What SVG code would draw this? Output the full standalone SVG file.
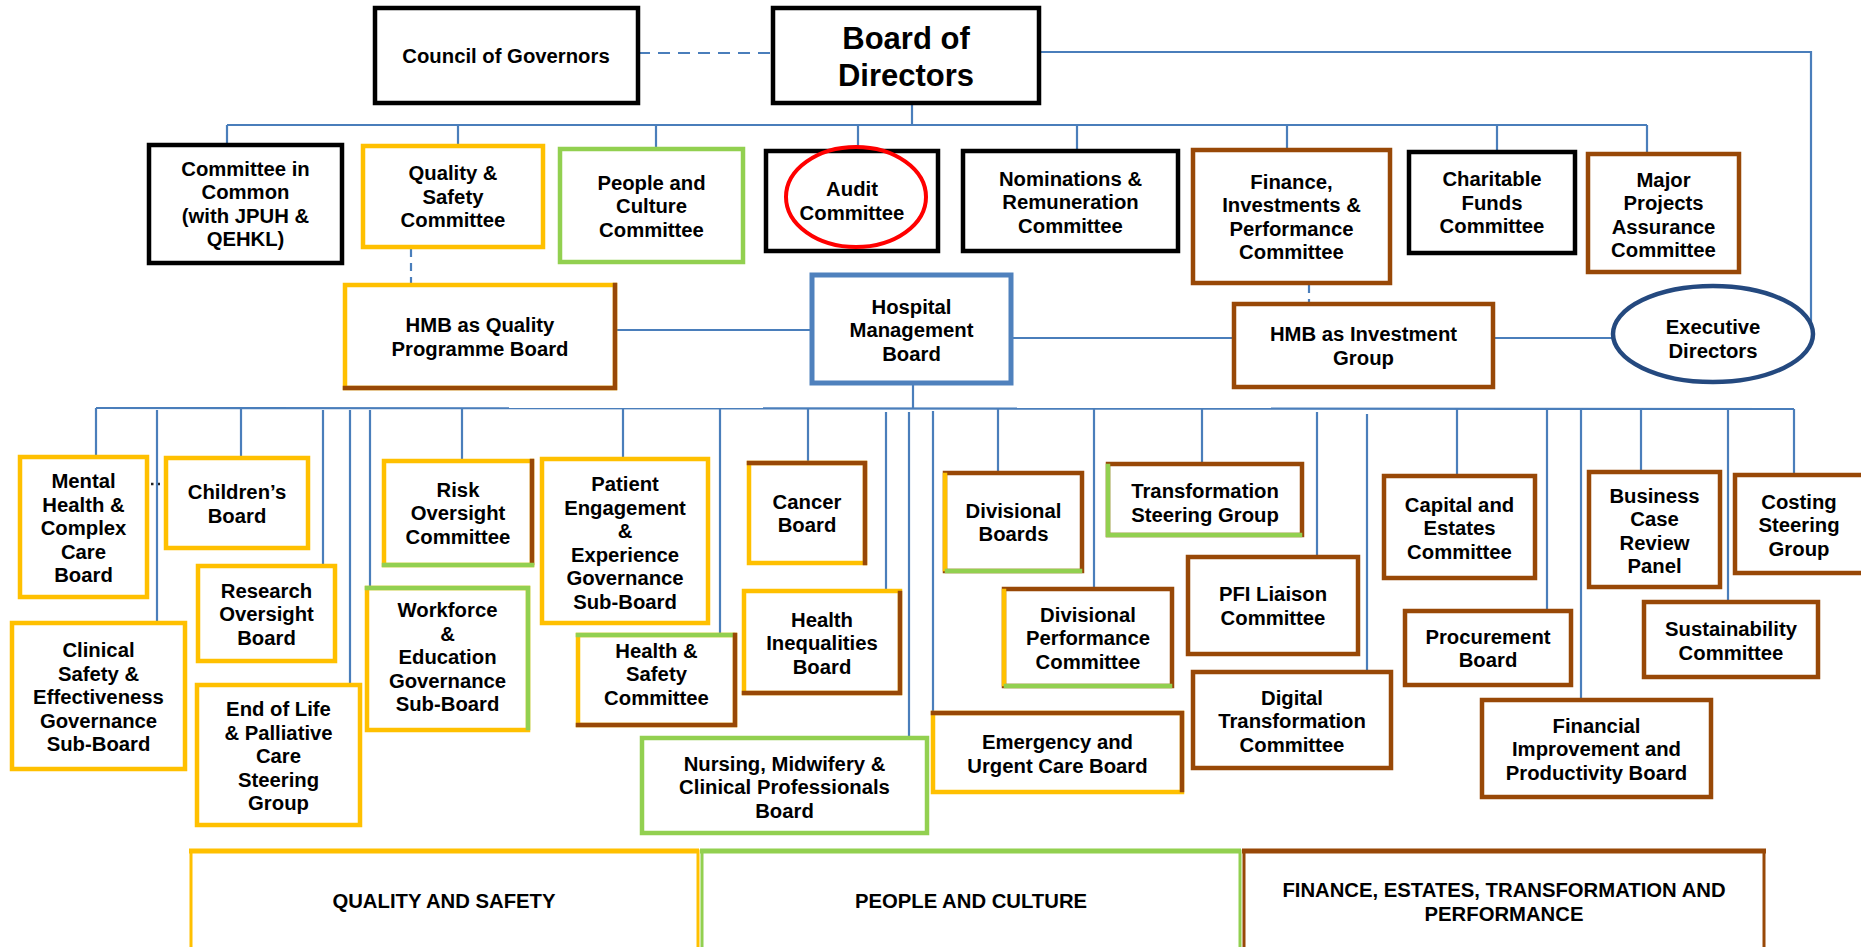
<svg xmlns="http://www.w3.org/2000/svg" width="1861" height="947" viewBox="0 0 1861 947">
  <style>
    .t { font-family: "Liberation Sans", Arial, sans-serif; font-weight: bold; font-size: 20.3px; text-anchor: middle; fill: #000; }
    .big { font-size: 31px; }
    .box { fill: #fff; stroke-width: 4.5; }
    .side { fill: none; stroke-width: 4.5; stroke-linecap: square; }
    .k { stroke: #000; }
    .y { stroke: #ffc000; }
    .g { stroke: #92d050; }
    .b { stroke: #984807; }
    .hb { stroke: #4f81bd; stroke-width: 5; }
    .conn line, .conn path { stroke: #4a7ebb; stroke-width: 2.2; fill: none; }
    .conn .dash { stroke-dasharray: 12 8; }
    .conn .dash2 { stroke-dasharray: 8 6; }
    .conn .dot { stroke: #222; stroke-width: 2.5; stroke-dasharray: 2.5 4.5; }
    .cat { fill: #fff; stroke-width: 3; }
  </style>

  <!-- connectors -->
  <g id="connectors" class="conn">
    <line class="dash" x1="638" y1="53" x2="773" y2="53"/>
    <path d="M1039 52 H1811 V324"/>
    <line x1="912" y1="103" x2="912" y2="125"/>
    <line x1="227" y1="125" x2="1647" y2="125"/>
    <line x1="227" y1="125" x2="227" y2="145"/>
    <line x1="458" y1="125" x2="458" y2="146"/>
    <line x1="656" y1="125" x2="656" y2="149"/>
    <line x1="858" y1="125" x2="858" y2="151"/>
    <line x1="1077" y1="125" x2="1077" y2="151"/>
    <line x1="1287" y1="125" x2="1287" y2="150"/>
    <line x1="1497" y1="125" x2="1497" y2="152"/>
    <line x1="1647" y1="125" x2="1647" y2="154"/>
    <line class="dash2" x1="411" y1="249" x2="411" y2="285"/>
    <line class="dash2" x1="1309" y1="285" x2="1309" y2="304"/>
    <line x1="615" y1="330" x2="812" y2="330"/>
    <line x1="1011" y1="338" x2="1234" y2="338"/>
    <line x1="1493" y1="338" x2="1613" y2="338"/>
    <line x1="913" y1="383" x2="913" y2="409"/>
    <line x1="96" y1="408" x2="1794" y2="409"/>
    <line x1="96" y1="408" x2="96" y2="457"/>
    <line x1="157" y1="410" x2="157" y2="623"/>
    <line x1="241" y1="408" x2="241" y2="458"/>
    <line x1="323" y1="410" x2="323" y2="566"/>
    <line x1="350" y1="410" x2="350" y2="685"/>
    <line x1="370" y1="410" x2="370" y2="588"/>
    <line x1="462" y1="408" x2="462" y2="461"/>
    <line x1="623" y1="408" x2="623" y2="459"/>
    <line x1="720" y1="408" x2="720" y2="635"/>
    <line x1="808" y1="408" x2="808" y2="463"/>
    <line x1="886" y1="412" x2="886" y2="591"/>
    <line x1="909" y1="412" x2="909" y2="738"/>
    <line x1="933" y1="411" x2="933" y2="713"/>
    <line x1="998" y1="408" x2="998" y2="473"/>
    <line x1="1094" y1="408" x2="1094" y2="589"/>
    <line x1="1202" y1="408" x2="1202" y2="464"/>
    <line x1="1317" y1="412" x2="1317" y2="557"/>
    <line x1="1367" y1="414" x2="1367" y2="672"/>
    <line x1="1457" y1="408" x2="1457" y2="476"/>
    <line x1="1547" y1="408" x2="1547" y2="611"/>
    <line x1="1581" y1="408" x2="1581" y2="700"/>
    <line x1="1641" y1="408" x2="1641" y2="472"/>
    <line x1="1728" y1="408" x2="1728" y2="602"/>
    <line x1="1794" y1="409" x2="1794" y2="476"/>
    <line class="dot" x1="151" y1="484" x2="160" y2="484"/>
  </g>

  <!-- top level -->
  <g id="council">
    <rect class="box k" x="375" y="8" width="263" height="95"/>
    <text class="t" x="506" y="63">Council of Governors</text>
  </g>
  <g id="board">
    <rect class="box k" x="773" y="8" width="266" height="95"/>
    <text class="t big"><tspan x="906" y="49">Board of</tspan><tspan x="906" y="86">Directors</tspan></text>
  </g>

  <!-- board committees -->
  <g id="committee-in-common">
    <rect class="box k" x="149" y="145" width="193" height="118"/>
    <text class="t"><tspan x="245.5" y="175.75">Committee in</tspan><tspan x="245.5" y="199.25">Common</tspan><tspan x="245.5" y="222.75">(with JPUH &amp;</tspan><tspan x="245.5" y="246.25">QEHKL)</tspan></text>
  </g>
  <g id="quality-safety-committee">
    <rect class="box y" x="363" y="146" width="180" height="101"/>
    <text class="t"><tspan x="453" y="180">Quality &amp;</tspan><tspan x="453" y="203.5">Safety</tspan><tspan x="453" y="227">Committee</tspan></text>
  </g>
  <g id="people-culture-committee">
    <rect class="box g" x="560" y="149" width="183" height="113"/>
    <text class="t"><tspan x="651.5" y="189.5">People and</tspan><tspan x="651.5" y="213">Culture</tspan><tspan x="651.5" y="236.5">Committee</tspan></text>
  </g>
  <g id="audit-committee">
    <rect class="box k" x="766" y="151" width="172" height="100"/>
    <ellipse cx="856" cy="197" rx="70" ry="50" fill="none" stroke="#ff0000" stroke-width="4"/>
    <text class="t"><tspan x="852" y="196.25">Audit</tspan><tspan x="852" y="219.75">Committee</tspan></text>
  </g>
  <g id="nominations-remuneration">
    <rect class="box k" x="963" y="151" width="215" height="100"/>
    <text class="t"><tspan x="1070.5" y="185.5">Nominations &amp;</tspan><tspan x="1070.5" y="209">Remuneration</tspan><tspan x="1070.5" y="232.5">Committee</tspan></text>
  </g>
  <g id="finance-investments-performance">
    <rect class="box b" x="1193" y="150" width="197" height="133"/>
    <text class="t"><tspan x="1291.5" y="188.75">Finance,</tspan><tspan x="1291.5" y="212.25">Investments &amp;</tspan><tspan x="1291.5" y="235.75">Performance</tspan><tspan x="1291.5" y="259.25">Committee</tspan></text>
  </g>
  <g id="charitable-funds">
    <rect class="box k" x="1409" y="152" width="166" height="101"/>
    <text class="t"><tspan x="1492" y="186">Charitable</tspan><tspan x="1492" y="209.5">Funds</tspan><tspan x="1492" y="233">Committee</tspan></text>
  </g>
  <g id="major-projects-assurance">
    <rect class="box b" x="1588" y="154" width="151" height="118"/>
    <text class="t"><tspan x="1663.5" y="186.75">Major</tspan><tspan x="1663.5" y="210.25">Projects</tspan><tspan x="1663.5" y="233.75">Assurance</tspan><tspan x="1663.5" y="257.25">Committee</tspan></text>
  </g>

  <!-- management level -->
  <g id="hmb-quality-programme">
    <rect class="box y" x="345" y="285" width="270" height="103"/>
    <path class="side b" d="M615 285 V388 H345"/>
    <text class="t"><tspan x="480" y="332.25">HMB as Quality</tspan><tspan x="480" y="355.75">Programme Board</tspan></text>
  </g>
  <g id="hospital-management-board">
    <rect class="box hb" x="812" y="275" width="199" height="108"/>
    <text class="t"><tspan x="911.5" y="313.5">Hospital</tspan><tspan x="911.5" y="337">Management</tspan><tspan x="911.5" y="360.5">Board</tspan></text>
  </g>
  <g id="hmb-investment-group">
    <rect class="box b" x="1234" y="304" width="259" height="83"/>
    <text class="t"><tspan x="1363.5" y="341.25">HMB as Investment</tspan><tspan x="1363.5" y="364.75">Group</tspan></text>
  </g>
  <g id="executive-directors">
    <ellipse cx="1713" cy="334" rx="100" ry="48" fill="#fff" stroke="#24497f" stroke-width="4.5"/>
    <text class="t"><tspan x="1713" y="334.25">Executive</tspan><tspan x="1713" y="357.75">Directors</tspan></text>
  </g>

  <!-- sub-boards and groups -->
  <g id="mental-health">
    <rect class="box y" x="20" y="457" width="127" height="140"/>
    <text class="t"><tspan x="83.5" y="488">Mental</tspan><tspan x="83.5" y="511.5">Health &amp;</tspan><tspan x="83.5" y="535">Complex</tspan><tspan x="83.5" y="558.5">Care</tspan><tspan x="83.5" y="582">Board</tspan></text>
  </g>
  <g id="clinical-safety">
    <rect class="box y" x="12" y="623" width="173" height="146"/>
    <text class="t"><tspan x="98.5" y="657">Clinical</tspan><tspan x="98.5" y="680.5">Safety &amp;</tspan><tspan x="98.5" y="704">Effectiveness</tspan><tspan x="98.5" y="727.5">Governance</tspan><tspan x="98.5" y="751">Sub-Board</tspan></text>
  </g>
  <g id="childrens-board">
    <rect class="box y" x="166" y="458" width="142" height="90"/>
    <text class="t"><tspan x="237" y="499.25">Children’s</tspan><tspan x="237" y="522.75">Board</tspan></text>
  </g>
  <g id="research-oversight">
    <rect class="box y" x="198" y="566" width="137" height="95"/>
    <text class="t"><tspan x="266.5" y="597.5">Research</tspan><tspan x="266.5" y="621">Oversight</tspan><tspan x="266.5" y="644.5">Board</tspan></text>
  </g>
  <g id="end-of-life">
    <rect class="box y" x="197" y="685" width="163" height="140"/>
    <text class="t"><tspan x="278.5" y="716">End of Life</tspan><tspan x="278.5" y="739.5">&amp; Palliative</tspan><tspan x="278.5" y="763">Care</tspan><tspan x="278.5" y="786.5">Steering</tspan><tspan x="278.5" y="810">Group</tspan></text>
  </g>
  <g id="risk-oversight">
    <rect class="box y" x="384" y="461" width="148" height="104"/>
    <line class="side b" x1="532" y1="461" x2="532" y2="563"/>
    <line class="side g" x1="384" y1="565" x2="532" y2="565"/>
    <text class="t"><tspan x="458" y="496.5">Risk</tspan><tspan x="458" y="520">Oversight</tspan><tspan x="458" y="543.5">Committee</tspan></text>
  </g>
  <g id="workforce-education">
    <rect class="box y" x="367" y="588" width="161" height="142"/>
    <path class="side g" d="M367 588 H528 V728"/>
    <text class="t"><tspan x="447.5" y="617">Workforce</tspan><tspan x="447.5" y="640.5">&amp;</tspan><tspan x="447.5" y="664">Education</tspan><tspan x="447.5" y="687.5">Governance</tspan><tspan x="447.5" y="711">Sub-Board</tspan></text>
  </g>
  <g id="patient-engagement">
    <rect class="box y" x="542" y="459" width="166" height="164"/>
    <text class="t"><tspan x="625" y="491.25">Patient</tspan><tspan x="625" y="514.75">Engagement</tspan><tspan x="625" y="538.25">&amp;</tspan><tspan x="625" y="561.75">Experience</tspan><tspan x="625" y="585.25">Governance</tspan><tspan x="625" y="608.75">Sub-Board</tspan></text>
  </g>
  <g id="health-safety">
    <rect class="box y" x="578" y="635" width="157" height="90"/>
    <line class="side g" x1="578" y1="635" x2="733" y2="635"/>
    <path class="side b" d="M735 635 V725 H578"/>
    <text class="t"><tspan x="656.5" y="657.5">Health &amp;</tspan><tspan x="656.5" y="681">Safety</tspan><tspan x="656.5" y="704.5">Committee</tspan></text>
  </g>
  <g id="cancer-board">
    <rect class="box y" x="749" y="463" width="116" height="100"/>
    <path class="side b" d="M749 463 H865 V563"/>
    <text class="t"><tspan x="807" y="508.75">Cancer</tspan><tspan x="807" y="532.25">Board</tspan></text>
  </g>
  <g id="health-inequalities">
    <rect class="box y" x="744" y="591" width="156" height="102"/>
    <path class="side b" d="M900 593 V693 H744"/>
    <text class="t"><tspan x="822" y="626.5">Health</tspan><tspan x="822" y="650">Inequalities</tspan><tspan x="822" y="673.5">Board</tspan></text>
  </g>
  <g id="nursing-midwifery">
    <rect class="box g" x="642" y="738" width="285" height="95"/>
    <text class="t"><tspan x="784.5" y="770.5">Nursing, Midwifery &amp;</tspan><tspan x="784.5" y="794">Clinical Professionals</tspan><tspan x="784.5" y="817.5">Board</tspan></text>
  </g>
  <g id="emergency-urgent-care">
    <rect class="box y" x="933" y="713" width="249" height="79"/>
    <path class="side b" d="M933 713 H1182 V790"/>
    <text class="t"><tspan x="1057.5" y="749.25">Emergency and</tspan><tspan x="1057.5" y="772.75">Urgent Care Board</tspan></text>
  </g>
  <g id="divisional-boards">
    <rect class="box b" x="945" y="473" width="137" height="98"/>
    <line class="side y" x1="945" y1="475" x2="945" y2="569"/>
    <line class="side g" x1="947" y1="571" x2="1080" y2="571"/>
    <text class="t"><tspan x="1013.5" y="517.75">Divisional</tspan><tspan x="1013.5" y="541.25">Boards</tspan></text>
  </g>
  <g id="divisional-performance">
    <rect class="box b" x="1004" y="589" width="168" height="97"/>
    <line class="side y" x1="1004" y1="591" x2="1004" y2="684"/>
    <line class="side g" x1="1006" y1="686" x2="1170" y2="686"/>
    <text class="t"><tspan x="1088" y="621.5">Divisional</tspan><tspan x="1088" y="645">Performance</tspan><tspan x="1088" y="668.5">Committee</tspan></text>
  </g>
  <g id="transformation-steering">
    <rect class="box b" x="1108" y="464" width="194" height="71"/>
    <path class="side g" d="M1108 466 V535 H1300"/>
    <text class="t"><tspan x="1205" y="498.25">Transformation</tspan><tspan x="1205" y="521.75">Steering Group</tspan></text>
  </g>
  <g id="pfi-liaison">
    <rect class="box b" x="1188" y="557" width="170" height="97"/>
    <text class="t"><tspan x="1273" y="601.25">PFI Liaison</tspan><tspan x="1273" y="624.75">Committee</tspan></text>
  </g>
  <g id="digital-transformation">
    <rect class="box b" x="1193" y="672" width="198" height="96"/>
    <text class="t"><tspan x="1292" y="704.5">Digital</tspan><tspan x="1292" y="728">Transformation</tspan><tspan x="1292" y="751.5">Committee</tspan></text>
  </g>
  <g id="capital-estates">
    <rect class="box b" x="1384" y="476" width="151" height="102"/>
    <text class="t"><tspan x="1459.5" y="511.5">Capital and</tspan><tspan x="1459.5" y="535">Estates</tspan><tspan x="1459.5" y="558.5">Committee</tspan></text>
  </g>
  <g id="procurement-board">
    <rect class="box b" x="1405" y="611" width="166" height="74"/>
    <text class="t"><tspan x="1488" y="643.75">Procurement</tspan><tspan x="1488" y="667.25">Board</tspan></text>
  </g>
  <g id="financial-improvement">
    <rect class="box b" x="1482" y="700" width="229" height="97"/>
    <text class="t"><tspan x="1596.5" y="732.5">Financial</tspan><tspan x="1596.5" y="756">Improvement and</tspan><tspan x="1596.5" y="779.5">Productivity Board</tspan></text>
  </g>
  <g id="business-case-review">
    <rect class="box b" x="1589" y="472" width="131" height="115"/>
    <text class="t"><tspan x="1654.5" y="502.75">Business</tspan><tspan x="1654.5" y="526.25">Case</tspan><tspan x="1654.5" y="549.75">Review</tspan><tspan x="1654.5" y="573.25">Panel</tspan></text>
  </g>
  <g id="sustainability">
    <rect class="box b" x="1644" y="602" width="174" height="75"/>
    <text class="t"><tspan x="1731" y="636.25">Sustainability</tspan><tspan x="1731" y="659.75">Committee</tspan></text>
  </g>
  <g id="costing-steering">
    <rect class="box b" x="1735" y="475" width="131" height="98"/>
    <text class="t"><tspan x="1799" y="508.5">Costing</tspan><tspan x="1799" y="532">Steering</tspan><tspan x="1799" y="555.5">Group</tspan></text>
  </g>

  <!-- governance themes -->
  <g id="theme-quality-safety">
    <rect class="cat y" x="191" y="851" width="507" height="120"/>
    <line class="y" stroke-width="5" x1="189" y1="851" x2="699" y2="851"/>
    <text class="t" x="444" y="908">QUALITY AND SAFETY</text>
  </g>
  <g id="theme-people-culture">
    <rect class="cat g" x="702" y="851" width="538" height="120"/>
    <line class="g" stroke-width="5" x1="700" y1="851" x2="1241" y2="851"/>
    <text class="t" x="971" y="908">PEOPLE AND CULTURE</text>
  </g>
  <g id="theme-finance">
    <rect class="cat b" x="1244" y="851" width="520" height="120"/>
    <line class="b" stroke-width="5" x1="1242" y1="851" x2="1766" y2="851"/>
    <text class="t"><tspan x="1504" y="897">FINANCE, ESTATES, TRANSFORMATION AND</tspan><tspan x="1504" y="921">PERFORMANCE</tspan></text>
  </g>
</svg>
